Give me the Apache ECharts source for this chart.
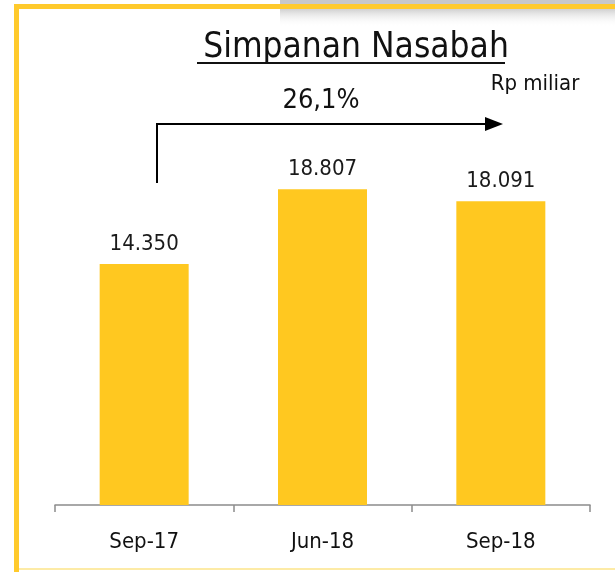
<!DOCTYPE html>
<html>
<head>
<meta charset="utf-8">
<script src="https://cdn.jsdelivr.net/npm/echarts@6/dist/echarts.min.js"></script>
<style>html,body{margin:0;padding:0;background:#fff}#c{width:615px;height:572px}</style>
</head>
<body>
<div id="c"></div>
<script>
var categories = ['Sep-17', 'Jun-18', 'Sep-18'];
var values = [14350, 18807, 18091];
var valueLabels = ['14.350', '18.807', '18.091'];
var growthLabel = '26,1%';
var unitLabel = 'Rp miliar';
var titleText = 'Simpanan Nasabah';

var FONT = 'DejaVu Sans Condensed';
var chart = echarts.init(document.getElementById('c'), null, {renderer: 'canvas'});
chart.setOption({
  backgroundColor: '#ffffff',
  animation: false,
  title: {
    text: titleText,
    left: 351, top: 25, textAlign: 'center',
    textStyle: {fontFamily: FONT, fontSize: 35, fontWeight: 'normal', color: '#111'}
  },
  grid: {left: 55, right: 25, top: 102, bottom: 67, containLabel: false},
  xAxis: {
    type: 'category', data: categories,
    axisLine: {lineStyle: {color: '#8c8c8c', width: 1.5}},
    axisTick: {show: true, length: 7, lineStyle: {color: '#8c8c8c', width: 1.5}},
    axisLabel: {fontFamily: FONT, fontSize: 22, color: '#111', margin: 26}
  },
  yAxis: {type: 'value', min: 0, max: 24000, show: false, splitLine: {show: false}},
  series: [{
    type: 'bar', data: values, barWidth: 89,
    itemStyle: {color: '#FFC820'},
    label: {
      show: true, position: 'top', distance: 9,
      fontFamily: FONT, fontSize: 22, color: '#1a1a1a',
      formatter: function (p) { return valueLabels[p.dataIndex]; }
    }
  }],
  graphic: [
    {type: 'rect', shape: {x: 280, y: 0, width: 335, height: 4}, style: {fill: '#c8c8c8'}, z: 0},
    {type: 'rect', shape: {x: 280, y: 9, width: 335, height: 18},
      style: {fill: new echarts.graphic.LinearGradient(0, 0, 0, 1, [{offset: 0, color: 'rgba(170,170,170,0.55)'}, {offset: 1, color: 'rgba(255,255,255,0)'}])}, z: 0},
    {type: 'rect', shape: {x: 14, y: 4, width: 601, height: 5}, style: {fill: '#FFCA2C'}, z: 1},
    {type: 'rect', shape: {x: 14, y: 4, width: 5, height: 568}, style: {fill: '#FFCA2C'}, z: 1},
    {type: 'rect', shape: {x: 19, y: 568, width: 596, height: 2}, style: {fill: '#FDEBA6'}, z: 1},
    {type: 'line', shape: {x1: 197, y1: 63, x2: 505, y2: 63}, style: {stroke: '#111', lineWidth: 2}},
    {type: 'text', style: {text: growthLabel, x: 321, y: 101, align: 'center', verticalAlign: 'middle',
      fontFamily: FONT, fontSize: 27, fill: '#111'}},
    {type: 'text', style: {text: unitLabel, x: 535, y: 84, align: 'center', verticalAlign: 'middle',
      fontFamily: FONT, fontSize: 22, fill: '#111'}},
    {type: 'polyline', shape: {points: [[157, 183], [157, 124], [487, 124]]}, style: {stroke: '#000', lineWidth: 2, fill: null}},
    {type: 'polygon', shape: {points: [[485, 117], [503, 124], [485, 131]]}, style: {fill: '#000'}}
  ]
});
</script>
</body>
</html>
